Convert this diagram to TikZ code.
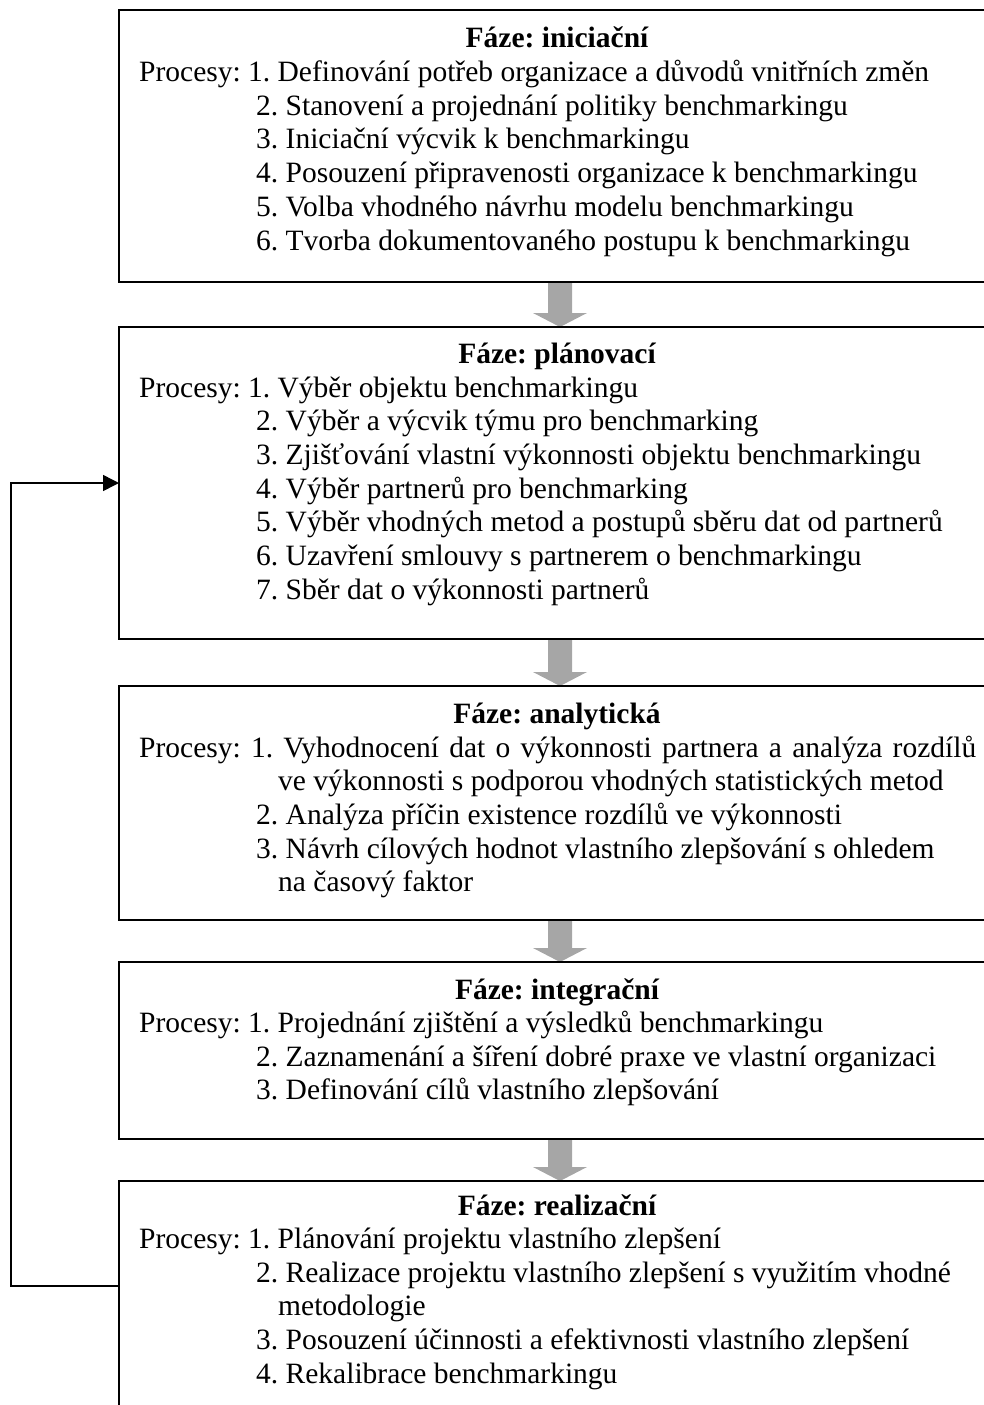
\documentclass[tikz,border=0pt]{standalone}
\usepackage{fontspec}
\setmainfont{Liberation Serif}
\usetikzlibrary{calc,arrows.meta,backgrounds}
\definecolor{arrowgray}{RGB}{166,166,166}
\frenchspacing
\tikzset{
  phasebox/.style={draw=black, line width=1.6pt, minimum width=882pt,
    minimum height=#1, anchor=north west, inner sep=0pt, outer sep=0pt},
  phasetitle/.style={anchor=base, inner sep=0pt,
    font=\fontsize{29.5}{34}\selectfont\bfseries},
  procline/.style={anchor=base west, inner sep=0pt,
    font=\fontsize{29.5}{34}\selectfont},
  feedback/.style={line width=1.5pt, -{Triangle[length=16pt,width=16pt]}},
}
% one text line of a phase box: name, x, baseline y, text
\newcommand\pline[4]{\node[procline] (#1) at (#2,#3) {#4};}
% justified line set to a given width
\newcommand\jline[2]{\makebox[#1][s]{#2}}
% grey block arrow from the bottom of one box to the top of the next
\newcommand\phasearrow[2]{%
  \fill[arrowgray] let \p1=(#1.south), \p2=(#2.north) in
    (\x1-12pt,\y1) -- (\x1+12pt,\y1) -- (\x1+12pt,\y2+14pt)
    -- (\x1+27pt,\y2+14pt) -- (\x1,\y2) -- (\x1-27pt,\y2+14pt)
    -- (\x1-12pt,\y2+14pt) -- cycle;}
\begin{document}
\begin{tikzpicture}[x=1pt,y=-1pt]
\useasboundingbox (0,0) rectangle (984,1405);
\clip (0,0) rectangle (984,1405);

% phase boxes (open to the right edge of the page)
\node[phasebox=272pt] (b1) at (119,10) {};
\node[phasebox=312pt] (b2) at (119,327) {};
\node[phasebox=234pt] (b3) at (119,686) {};
\node[phasebox=177pt] (b4) at (119,962) {};
\node[phasebox=260pt] (b5) at (119,1181) {};

\begin{scope}[on background layer]
  \phasearrow{b1}{b2}
  \phasearrow{b2}{b3}
  \phasearrow{b3}{b4}
  \phasearrow{b4}{b5}
\end{scope}

% phase 1
\node[phasetitle] (h1) at (557,48) {Fáze: iniciační};
\pline{p11}{139}{81.5}{Procesy: 1. Definování potřeb organizace a důvodů vnitřních změn}
\pline{p12}{256}{115.2}{2. Stanovení a projednání politiky benchmarkingu}
\pline{p13}{256}{148.9}{3. Iniciační výcvik k benchmarkingu}
\pline{p14}{256}{182.6}{4. Posouzení připravenosti organizace k benchmarkingu}
\pline{p15}{256}{216.3}{5. Volba vhodného návrhu modelu benchmarkingu}
\pline{p16}{256}{250.0}{6. Tvorba dokumentovaného postupu k benchmarkingu}

% phase 2
\node[phasetitle] (h2) at (557,363.5) {Fáze: plánovací};
\pline{p21}{139}{397.0}{Procesy: 1. Výběr objektu benchmarkingu}
\pline{p22}{256}{430.7}{2. Výběr a výcvik týmu pro benchmarking}
\pline{p23}{256}{464.4}{3. Zjišťování vlastní výkonnosti objektu benchmarkingu}
\pline{p24}{256}{498.1}{4. Výběr partnerů pro benchmarking}
\pline{p25}{256}{531.8}{5. Výběr vhodných metod a postupů sběru dat od partnerů}
\pline{p26}{256}{565.5}{6. Uzavření smlouvy s partnerem o benchmarkingu}
\pline{p27}{256}{599.2}{7. Sběr dat o výkonnosti partnerů}

% phase 3
\node[phasetitle] (h3) at (557,723) {Fáze: analytická};
\pline{p31}{139}{757.0}{\jline{837pt}{Procesy: 1. Vyhodnocení dat o výkonnosti partnera a analýza rozdílů}}
\pline{p31b}{278}{790.7}{ve výkonnosti s podporou vhodných statistických metod}
\pline{p32}{256}{824.4}{2. Analýza příčin existence rozdílů ve výkonnosti}
\pline{p33}{256}{858.1}{3. Návrh cílových hodnot vlastního zlepšování s ohledem}
\pline{p33b}{278}{891.8}{na časový faktor}

% phase 4
\node[phasetitle] (h4) at (557,999) {Fáze: integrační};
\pline{p41}{139}{1032.5}{Procesy: 1. Projednání zjištění a výsledků benchmarkingu}
\pline{p42}{256}{1066.2}{2. Zaznamenání a šíření dobré praxe ve vlastní organizaci}
\pline{p43}{256}{1099.9}{3. Definování cílů vlastního zlepšování}

% phase 5
\node[phasetitle] (h5) at (557,1215) {Fáze: realizační};
\pline{p51}{139}{1248.5}{Procesy: 1. Plánování projektu vlastního zlepšení}
\pline{p52}{256}{1282.2}{2. Realizace projektu vlastního zlepšení s využitím vhodné}
\pline{p52b}{278}{1315.9}{metodologie}
\pline{p53}{256}{1349.6}{3. Posouzení účinnosti a efektivnosti vlastního zlepšení}
\pline{p54}{256}{1383.3}{4. Rekalibrace benchmarkingu}

% feedback loop from the last phase back to planning
\coordinate (fblow) at (11,1286);
\coordinate (fbhigh) at (11,483);
\draw[feedback] (b5.west |- fblow) -- (fblow) -- (fbhigh) -- (b2.west |- fbhigh);
\end{tikzpicture}
\end{document}
